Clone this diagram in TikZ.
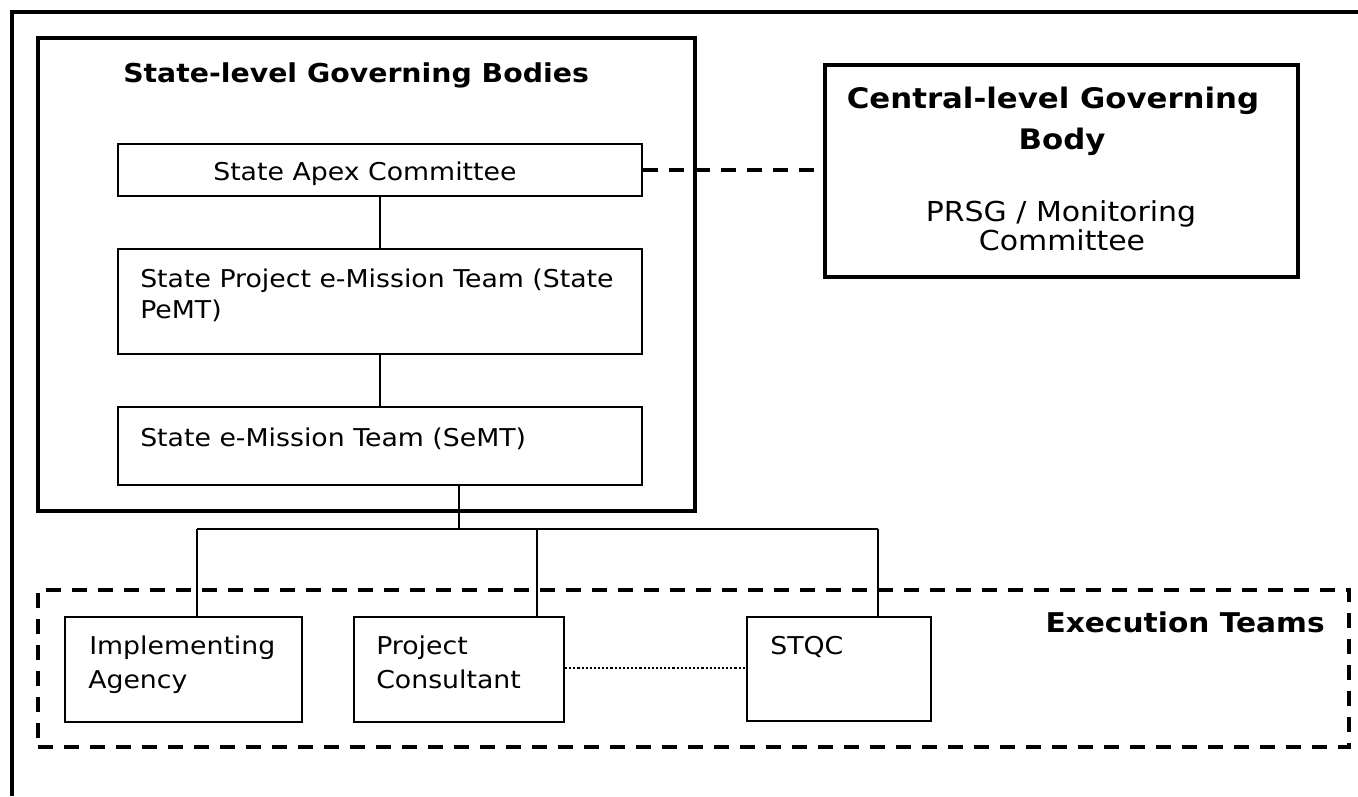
\documentclass[tikz,border=0pt]{standalone}
\usepackage{fontspec}
\setmainfont[FakeStretch=1.09]{DejaVu Sans}
\usetikzlibrary{fit}
\begin{document}
\begin{tikzpicture}[x=0.75pt,y=-0.75pt,
  thinbox/.style={draw, line width=1.5pt, inner sep=0pt},
  thickbox/.style={draw, line width=2.7pt, inner sep=0pt},
  dashbox/.style={draw, line width=2.5pt, inner sep=0pt, dash pattern=on 11pt off 8.5pt},
  txt/.style={anchor=base west, inner sep=0pt, font=\fontsize{18.4pt}{22pt}\selectfont},
  btxt/.style={anchor=base west, inner sep=0pt, font=\fontsize{19.5pt}{24pt}\selectfont\bfseries},
  ctxt/.style={anchor=base, inner sep=0pt, font=\fontsize{20.6pt}{24pt}\selectfont},
  cbtxt/.style={anchor=base, inner sep=0pt, font=\fontsize{21.2pt}{24pt}\selectfont\bfseries},
  conn/.style={line width=1.3pt},
  dashline/.style={line width=2.5pt, dash pattern=on 11pt off 8.5pt},
  dotline/.style={line width=1.3pt, dash pattern=on 1.6pt off 1.5pt}]
\useasboundingbox (0,0) rectangle (1358,796);
\fill[white] (0,0) rectangle (1358,796);
% outer frame (clipped at right and bottom)
\draw[line width=2.7pt] (12,796) -- (12,12) -- (1358,12);

% boxes
\node[thickbox, fit={(38,38) (695,511)}] (state) {};
\node[thickbox, fit={(825,65) (1298,277)}] (central) {};
\node[thinbox, fit={(118,144) (642,196)}] (apex) {};
\node[thinbox, fit={(118,249) (642,354)}] (pemt) {};
\node[thinbox, fit={(118,407) (642,485)}] (semt) {};
\node[dashbox, fit={(38,590) (1349,747)}] (exec) {};
\node[thinbox, fit={(65,617) (302,722)}] (ia) {};
\node[thinbox, fit={(354,617) (564,722)}] (pc) {};
\node[thinbox, fit={(747,617) (931,721)}] (stqc) {};

% texts
\node[btxt] (statet) at (123,82) {State-level Governing Bodies};
\node[txt] (apext) at (213,180) {State Apex Committee};
\node[txt] (pemt1) at (140,287) {State Project e-Mission Team (State};
\node[txt] (pemt2) at (140,318) {PeMT)};
\node[txt] (semtt) at (140,446) {State e-Mission Team (SeMT)};
\node[txt] (ia1) at (89,654) {Implementing};
\node[txt] (ia2) at (88,688) {Agency};
\node[txt] (pc1) at (376,654) {Project};
\node[txt] (pc2) at (376,688) {Consultant};
\node[txt] (stqct) at (770,654) {STQC};
\node[btxt, anchor=base east, font=\fontsize{20.4pt}{24pt}\selectfont\bfseries] (exect) at (1325,632) {Execution Teams};
\node[cbtxt] (cen1) at (1053,108) {Central-level Governing};
\node[cbtxt] (cen2) at (1062,149) {Body};
\node[ctxt] (cen3) at (1061,221) {PRSG / Monitoring};
\node[ctxt] (cen4) at (1062,250) {Committee};

% connectors
\draw[conn] (apex.south) -- (pemt.north);
\draw[conn] (pemt.south) -- (semt.north);
\coordinate (j) at (459,529);
\coordinate (ja) at (197,529);
\coordinate (jb) at (537,529);
\coordinate (jc) at (878,529);
\draw[conn] (j |- semt.south) -- (j);
\draw[conn] (ja) -- (jc);
\draw[conn] (ja) -- (ja |- ia.north);
\draw[conn] (jb) -- (jb |- pc.north);
\draw[conn] (jc) -- (jc |- stqc.north);
\draw[dashline] (apex.east) -- (apex.east -| central.west);
\draw[dotline] (pc.east |- 0,668) -- (stqc.west |- 0,668);
\end{tikzpicture}
\end{document}
